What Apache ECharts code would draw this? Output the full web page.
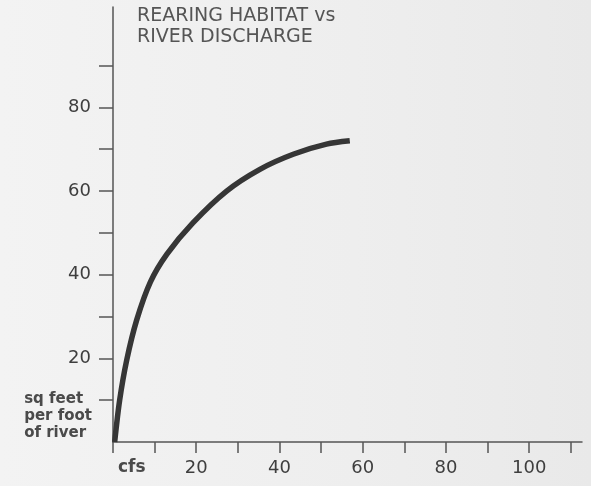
<!DOCTYPE html>
<html>
<head>
<meta charset="utf-8">
<script src="https://cdn.jsdelivr.net/npm/echarts@6/dist/echarts.min.js"></script>
<style>
  html, body { margin: 0; padding: 0; }
  body { background: linear-gradient(to right, #f3f3f3 0%, #eeeeee 60%, #e9e9e9 100%); }
  #chart { width: 591px; height: 486px; }
</style>
</head>
<body>
<div id="chart"></div>
<script>
// discharge (cfs) vs rearing habitat (sq feet per foot of river)
var flowCfs = [0.4, 1.6, 3.3, 5.7, 9.0, 13.0, 19.2, 27.3, 35.3, 43.3, 51.3, 56.9];
var habitat = [0, 10, 19.6, 29.2, 38.3, 45, 52.4, 60, 65.2, 68.8, 71.2, 72];

var xTicks = [0, 10, 20, 30, 40, 50, 60, 70, 80, 90, 100, 110];
var xLabels = [20, 40, 60, 80, 100];
var yTicks = [10, 20, 30, 40, 50, 60, 70, 80, 90];
var yLabels = [20, 40, 60, 80];

var ink = '#3e3e3e';
var font = 'DejaVu Sans';

var chart = echarts.init(document.getElementById('chart'));
chart.setOption({
  backgroundColor: 'transparent',
  animation: false,
  title: {
    text: 'REARING HABITAT vs\nRIVER DISCHARGE',
    left: 132,
    top: 1,
    textStyle: {
      fontFamily: font,
      fontSize: 19,
      fontWeight: 'normal',
      color: '#555',
      lineHeight: 20.5
    }
  },
  grid: {
    left: 113,
    right: 9,
    top: 7,
    bottom: 44
  },
  xAxis: {
    type: 'value',
    min: 0,
    max: 112.7,
    splitLine: { show: false },
    axisLine: { show: true, lineStyle: { color: '#555', width: 1.5 } },
    axisTick: {
      show: true,
      customValues: xTicks,
      length: 11,
      lineStyle: { color: '#555', width: 1.5 }
    },
    axisLabel: {
      customValues: xLabels,
      margin: 17,
      fontFamily: font,
      fontSize: 18,
      color: ink
    }
  },
  yAxis: {
    type: 'value',
    min: 0,
    max: 104,
    splitLine: { show: false },
    axisLine: { show: true, lineStyle: { color: '#555', width: 1.5 } },
    axisTick: {
      show: true,
      customValues: yTicks,
      length: 14,
      lineStyle: { color: '#555', width: 1.5 }
    },
    axisLabel: {
      customValues: yLabels,
      margin: 22,
      fontFamily: font,
      fontSize: 18,
      color: ink
    }
  },
  graphic: [
    {
      type: 'text',
      left: 118,
      top: 459,
      style: {
        text: 'cfs',
        font: 'bold 17px "DejaVu Sans"',
        fill: '#4a4a4a'
      }
    },
    {
      type: 'text',
      right: 499,
      top: 391,
      style: {
        text: 'sq feet\nper foot\nof river',
        font: 'bold 15px "DejaVu Sans"',
        fill: '#4a4a4a',
        align: 'right',
        lineHeight: 17
      }
    }
  ],
  series: [{
    type: 'line',
    smooth: 0.3,
    showSymbol: false,
    lineStyle: { color: '#363636', width: 5.5, cap: 'butt' },
    data: flowCfs.map(function (x, i) { return [x, habitat[i]]; })
  }]
});
</script>
</body>
</html>
